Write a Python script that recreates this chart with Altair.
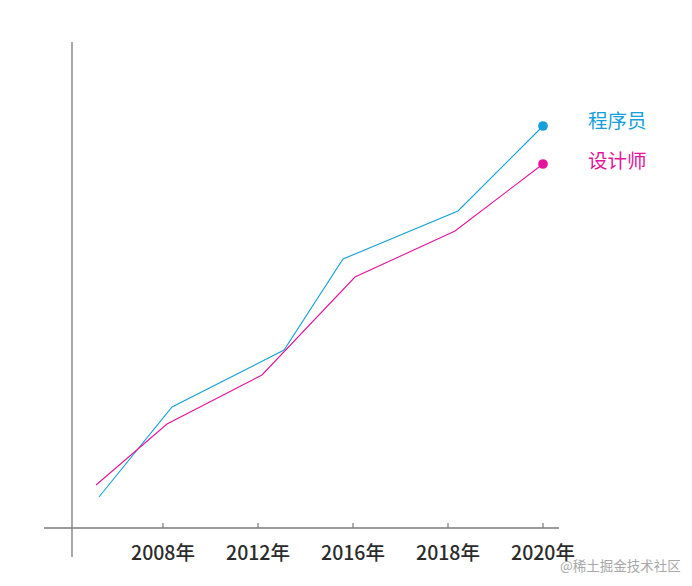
import altair as alt
import pandas as pd

# ---- data ----
tick_pos = [1, 2, 3, 4, 5]
tick_labels = ["2008年", "2012年", "2016年", "2018年", "2020年"]

series_names = ["程序员", "设计师"]
series_colors = ["#149fdc", "#e5139b"]

prog_x = [0.326, 1.095, 2.274, 2.895, 4.105, 5.0]
prog_y = [31, 121, 178, 269, 317, 402]
design_x = [0.295, 1.042, 2.042, 3.021, 4.074, 5.0]
design_y = [43, 104, 153, 251, 297, 364]

watermark = "@稀土掘金技术社区"

# ---- layout helpers ----
W, H = 676, 570
def ux(px):  # window pixel x -> data u
    return (px - 163) / 95 + 1
def vy(py):  # window pixel y -> data v
    return 528 - py

XD = [ux(8), ux(8 + W)]
YD = [vy(8 + H), vy(8)]
xs = alt.Scale(domain=XD, nice=False, zero=False)
ys = alt.Scale(domain=YD, nice=False, zero=False)
cs = alt.Scale(domain=series_names, range=series_colors)
FONT = "Noto Sans CJK SC"

rows = []
for n, xs_, ys_ in [(series_names[0], prog_x, prog_y), (series_names[1], design_x, design_y)]:
    for i, (a, b) in enumerate(zip(xs_, ys_)):
        rows.append({"series": n, "u": a, "v": b, "i": i})
df = pd.DataFrame(rows)
last = df[df["i"] == df["i"].max()].copy()

axes_df = pd.DataFrame([
    {"u": ux(72), "u2": ux(72), "v": vy(42), "v2": vy(557)},
    {"u": ux(44), "u2": ux(559), "v": 0, "v2": 0},
])
ticks_df = pd.DataFrame({"u": tick_pos, "label": tick_labels})

axis_lines = alt.Chart(axes_df).mark_rule(color="#7a7a7a", strokeWidth=1.3).encode(
    x=alt.X("u:Q", scale=xs, axis=None), x2="u2:Q",
    y=alt.Y("v:Q", scale=ys, axis=None), y2="v2:Q")

tick_marks = alt.Chart(ticks_df).transform_calculate(v0="0", v1="5").mark_rule(
    color="#7a7a7a", strokeWidth=1.2).encode(
    x=alt.X("u:Q", scale=xs, axis=None),
    y=alt.Y("v0:Q", scale=ys, axis=None), y2="v1:Q")

tick_text = alt.Chart(ticks_df).transform_calculate(v="-26").mark_text(
    font=FONT, fontSize=19.5, color="#2b2b2b", fontWeight=500, align="center", baseline="middle").encode(
    x=alt.X("u:Q", scale=xs, axis=None),
    y=alt.Y("v:Q", scale=ys, axis=None), text="label:N")

lines = alt.Chart(df).mark_line(strokeWidth=1.1).encode(
    x=alt.X("u:Q", scale=xs, axis=None),
    y=alt.Y("v:Q", scale=ys, axis=None),
    color=alt.Color("series:N", scale=cs, legend=None),
    order="i:Q")

dots = alt.Chart(last).mark_circle(size=95, opacity=1).encode(
    x=alt.X("u:Q", scale=xs, axis=None),
    y=alt.Y("v:Q", scale=ys, axis=None),
    color=alt.Color("series:N", scale=cs, legend=None))

lab_df = pd.DataFrame({"series": series_names, "u": [ux(588)] * 2, "v": [vy(122), vy(162)]})
labels = alt.Chart(lab_df).mark_text(font=FONT, fontSize=19.5, align="left", baseline="middle").encode(
    x=alt.X("u:Q", scale=xs, axis=None),
    y=alt.Y("v:Q", scale=ys, axis=None),
    color=alt.Color("series:N", scale=cs, legend=None), text="series:N")

wm = alt.Chart(pd.DataFrame({"t": [watermark], "u": [ux(560)], "v": [vy(567)]})).mark_text(
    font=FONT, fontSize=13.5, color="#a8a8a8", align="left", baseline="middle").encode(
    x=alt.X("u:Q", scale=xs, axis=None),
    y=alt.Y("v:Q", scale=ys, axis=None), text="t:N")

chart = alt.layer(axis_lines, tick_marks, tick_text, lines, dots, labels, wm).properties(
    width=W, height=H, padding=0, autosize=alt.AutoSizeParams(type="none"),
    background="white").configure_view(stroke=None)

chart.save("out.html", embed_options={"renderer": "svg", "actions": False})
